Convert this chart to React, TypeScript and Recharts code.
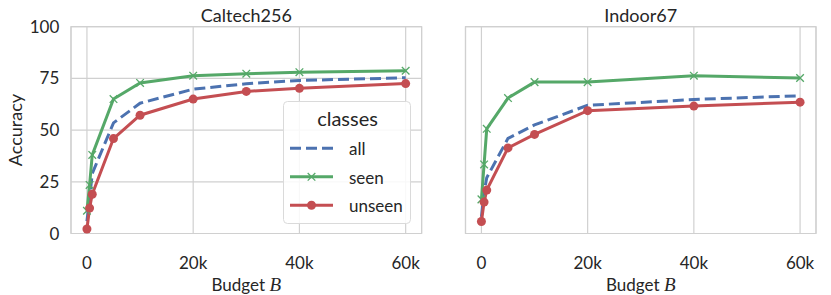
import React from 'react'
import {
  LineChart,
  Line,
  XAxis,
  YAxis,
  CartesianGrid,
  ReferenceArea,
  Legend,
  Label,
} from 'recharts'

// budgets (x) per dataset
const caltechBudgets = [0, 500, 1000, 5000, 10000, 20000, 30000, 40000, 60000]
const indoorBudgets = [0, 500, 1000, 5000, 10000, 20000, 40000, 60000]

// accuracy per class group
const caltechAll = [6, 17, 29, 53.5, 63, 69.8, 72.4, 74, 75.3]
const caltechSeen = [11, 23.5, 38, 65, 72.8, 76.3, 77.3, 78, 78.7]
const caltechUnseen = [2.2, 12.3, 19, 45.9, 57.2, 65, 68.7, 70.2, 72.5]

const indoorAll = [8, 20, 27, 46, 52.5, 62, 64.8, 66.6]
const indoorSeen = [16.5, 33.4, 50.6, 65.5, 73.2, 73.2, 76.3, 75.2]
const indoorUnseen = [5.8, 15.2, 21, 41.4, 47.9, 59.4, 61.6, 63.5]

const xTicks = [0, 20000, 40000, 60000]
const yTicks = [0, 25, 50, 75, 100]

const TEXT = '#262626'
const GRID = '#d0d0d0'
const BLUE = '#4C72B0'
const GREEN = '#55A868'
const RED = '#C44E52'

const toRows = (budgets: number[], all: number[], seen: number[], unseen: number[]) =>
  budgets.map((b, i) => ({ budget: b, all: all[i], seen: seen[i], unseen: unseen[i] }))

const caltechRows = toRows(caltechBudgets, caltechAll, caltechSeen, caltechUnseen)
const indoorRows = toRows(indoorBudgets, indoorAll, indoorSeen, indoorUnseen)

const fmtK = (v: number) => (v === 0 ? '0' : `${v / 1000}k`)

const XMark = (props: any) => {
  const { cx, cy, key } = props
  if (cx == null || cy == null) return <g key={key} />
  const s = 3.8
  return (
    <g key={key} stroke={GREEN} strokeWidth={1.3}>
      <line x1={cx - s} y1={cy - s} x2={cx + s} y2={cy + s} />
      <line x1={cx - s} y1={cy + s} x2={cx + s} y2={cy - s} />
    </g>
  )
}

const budgetLabel = (props: any) => {
  const vb = props.viewBox
  return (
    <text x={vb.x + vb.width / 2} y={vb.y + 57.5} textAnchor="middle" fill={TEXT} fontSize={17}>
      Budget{' '}
      <tspan fontStyle="italic" fontFamily="'Liberation Serif', serif" fontSize={19}>
        B
      </tspan>
    </text>
  )
}

const accuracyLabel = (props: any) => {
  const vb = props.viewBox
  const x = vb.x + 15
  const y = vb.y + vb.height / 2
  return (
    <text
      x={x}
      y={y}
      transform={`rotate(-90 ${x} ${y})`}
      textAnchor="middle"
      dominantBaseline="central"
      fill={TEXT}
      fontSize={18}
    >
      Accuracy
    </text>
  )
}

const legendItems = [
  { name: 'all', color: BLUE, dash: '11 5', marker: 'none' },
  { name: 'seen', color: GREEN, dash: undefined, marker: 'x' },
  { name: 'unseen', color: RED, dash: undefined, marker: 'o' },
]

const renderLegend = () => (
  <svg width={129} height={124} style={{ display: 'block' }}>
    <rect x={0.5} y={0.5} width={127} height={122} rx={4} fill="#fff" fillOpacity={0.85} stroke="#dadada" />
    <text x={64.5} y={24.7} textAnchor="middle" fontSize={20} fill={TEXT}>
      classes
    </text>
    {legendItems.map((s, i) => {
      const y = 47.3 + i * 28.5
      return (
        <g key={s.name}>
          <line x1={7} x2={50} y1={y} y2={y} stroke={s.color} strokeWidth={3} strokeDasharray={s.dash} />
          {s.marker === 'o' && <circle cx={28.5} cy={y} r={4.5} fill={s.color} />}
          {s.marker === 'x' && (
            <g stroke={s.color} strokeWidth={1.3}>
              <line x1={24.7} y1={y - 3.8} x2={32.3} y2={y + 3.8} />
              <line x1={24.7} y1={y + 3.8} x2={32.3} y2={y - 3.8} />
            </g>
          )}
          <text x={66} y={y + 6.7} fontSize={17} fill={TEXT}>
            {s.name}
          </text>
        </g>
      )
    })}
  </svg>
)

type PanelProps = {
  title: string
  rows: any[]
  left: number
  width: number
  yAxisWidth: number
  marginRight: number
  primary: boolean
}

function Panel({ title, rows, left, width, yAxisWidth, marginRight, primary }: PanelProps) {
  return (
    <div style={{ position: 'absolute', left, top: 0 }}>
      <LineChart
        width={width}
        height={295}
        data={rows}
        margin={{ top: 26.7, right: marginRight, bottom: 0, left: 0 }}
      >
        <CartesianGrid stroke={GRID} strokeWidth={1.2} />
        <ReferenceArea
          x1={-3000}
          x2={63000}
          y1={0}
          y2={100}
          fill="none"
          stroke={GRID}
          strokeWidth={1.2}
          label={{ value: title, position: 'top', offset: 5, fontSize: 18, fill: TEXT }}
        />
        <XAxis
          dataKey="budget"
          type="number"
          domain={[-3000, 63000]}
          ticks={xTicks}
          tickFormatter={fmtK}
          axisLine={false}
          tickLine={false}
          tickSize={0}
          tickMargin={23.7}
          height={61.5}
          tick={{ fill: TEXT, fontSize: 17 }}
          interval={0}
        >
          <Label content={budgetLabel} />
        </XAxis>
        <YAxis
          type="number"
          domain={[0, 100]}
          ticks={yTicks}
          axisLine={false}
          tickLine={false}
          tickSize={0}
          tickMargin={11.7}
          width={yAxisWidth}
          tick={primary ? { fill: TEXT, fontSize: 17 } : false}
          interval={0}
        >
          {primary && <Label content={accuracyLabel} />}
        </YAxis>
        <Line
          dataKey="all"
          stroke={BLUE}
          strokeWidth={3}
          strokeDasharray="11 5"
          dot={false}
          isAnimationActive={false}
        />
        <Line dataKey="seen" stroke={GREEN} strokeWidth={3} dot={XMark} isAnimationActive={false} />
        <Line
          dataKey="unseen"
          stroke={RED}
          strokeWidth={3}
          dot={{ r: 4.5, fill: RED, stroke: RED, strokeWidth: 0 }}
          isAnimationActive={false}
        />
        {primary && (
          <Legend
            layout="horizontal"
            verticalAlign="middle"
            align="center"
            content={renderLegend}
            wrapperStyle={{ left: 283, top: 101, width: 129, height: 124 }}
          />
        )}
      </LineChart>
    </div>
  )
}

export default function App() {
  return (
    <div
      style={{
        position: 'absolute',
        left: 0,
        top: 0,
        width: 831,
        height: 295,
        background: '#fff',
        fontFamily: 'Lato, sans-serif',
      }}
    >
      <Panel title="Caltech256" rows={caltechRows} left={0} width={440} yAxisWidth={71} marginRight={18.4} primary />
      <Panel
        title="Indoor67"
        rows={indoorRows}
        left={440}
        width={391}
        yAxisWidth={25.5}
        marginRight={15}
        primary={false}
      />
    </div>
  )
}
